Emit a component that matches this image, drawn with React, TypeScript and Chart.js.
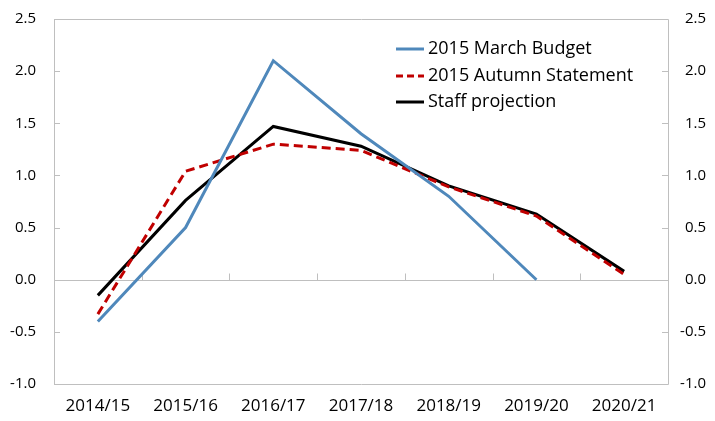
import React, { useEffect, useRef } from 'react';
import { Chart, registerables } from 'chart.js';
Chart.register(...registerables);

const categories = ['2014/15', '2015/16', '2016/17', '2017/18', '2018/19', '2019/20', '2020/21'];
const marchBudget: (number | null)[] = [-0.4, 0.5, 2.1, 1.4, 0.8, 0.0, null];
const autumnStatement = [-0.33, 1.04, 1.3, 1.24, 0.89, 0.61, 0.05];
const staffProjection = [-0.15, 0.76, 1.47, 1.28, 0.9, 0.63, 0.08];
const seriesNames = ['2015 March Budget', '2015 Autumn Statement', 'Staff projection'];
const seriesColors = ['#4F88BB', '#C00000', '#000000'];
const yMin = -1.0;
const yMax = 2.5;
const yStep = 0.5;

const FONT = '"Open Sans", "Noto Sans", sans-serif';
const AXIS_GRAY = '#BFBFBF';

const framePlugin = {
  id: 'frame',
  beforeDatasetsDraw(chart: any) {
    const { ctx, chartArea: a, scales } = chart;
    const y = scales.y;
    const x = scales.x;
    ctx.save();
    ctx.strokeStyle = AXIS_GRAY;
    ctx.lineWidth = 1;
    ctx.beginPath();
    ctx.rect(Math.round(a.left) + 0.5, Math.round(a.top) + 0.5, Math.round(a.right - a.left), Math.round(a.bottom - a.top));
    ctx.stroke();
    const y0 = Math.round(y.getPixelForValue(0)) + 0.5;
    ctx.beginPath();
    ctx.moveTo(a.left, y0);
    ctx.lineTo(a.right, y0);
    for (let v = yMin; v <= yMax + 1e-9; v += yStep) {
      const py = Math.round(y.getPixelForValue(v)) + 0.5;
      ctx.moveTo(a.left, py);
      ctx.lineTo(a.left + 6, py);
      ctx.moveTo(a.right - 6, py);
      ctx.lineTo(a.right, py);
    }
    for (let i = 0; i < categories.length - 1; i++) {
      const px = Math.round((x.getPixelForValue(i) + x.getPixelForValue(i + 1)) / 2) + 0.5;
      ctx.moveTo(px, y0);
      ctx.lineTo(px, y0 - 7);
    }
    ctx.stroke();
    ctx.restore();
  },
  afterDraw(chart: any) {
    const { ctx } = chart;
    ctx.save();
    const x1 = 396;
    const x2 = 424;
    const rows = [49, 76, 102];
    ctx.font = `18px ${FONT}`;
    ctx.textBaseline = 'middle';
    ctx.textAlign = 'left';
    rows.forEach((ry, i) => {
      ctx.beginPath();
      ctx.strokeStyle = seriesColors[i];
      ctx.lineWidth = 3;
      ctx.setLineDash(i === 1 ? [7, 4] : []);
      ctx.moveTo(x1, ry);
      ctx.lineTo(x2, ry);
      ctx.stroke();
      ctx.setLineDash([]);
      ctx.fillStyle = '#000';
      ctx.fillText(seriesNames[i], 428, ry);
    });
    ctx.restore();
  },
};

const fitY = (w: number) => (s: any) => {
  s.width = w;
  s.paddingTop = 0;
  s.paddingBottom = 0;
};

export default function App() {
  const ref = useRef<HTMLCanvasElement>(null);
  useEffect(() => {
    if (!ref.current) return;
    const chart = new Chart(ref.current, {
      type: 'line',
      data: {
        labels: categories,
        datasets: [
          {
            label: seriesNames[0],
            data: marchBudget,
            borderColor: seriesColors[0],
            borderWidth: 3,
            pointRadius: 0,
            tension: 0,
            spanGaps: false,
          },
          {
            label: seriesNames[1],
            data: autumnStatement,
            borderColor: seriesColors[1],
            borderWidth: 3,
            borderDash: [9, 5],
            pointRadius: 0,
            tension: 0,
          },
          {
            label: seriesNames[2],
            data: staffProjection,
            borderColor: seriesColors[2],
            borderWidth: 3,
            pointRadius: 0,
            tension: 0,
          },
        ],
      },
      options: {
        animation: false,
        responsive: false,
        maintainAspectRatio: false,
        layout: { padding: { top: 19, right: 9, left: 0, bottom: 0 } },
        plugins: {
          legend: { display: false },
          tooltip: { enabled: false },
        },
        scales: {
          x: {
            type: 'category',
            offset: true,
            grid: { display: false, drawTicks: false },
            border: { display: false },
            ticks: { color: '#000', font: { family: FONT, size: 17 }, padding: 12, maxRotation: 0, autoSkip: false },
            afterFit: (s: any) => { s.height = 37; s.paddingLeft = 0; s.paddingRight = 0; },
          },
          y: {
            position: 'left',
            min: yMin,
            max: yMax,
            grid: { display: false, drawTicks: false },
            border: { display: false },
            ticks: {
              stepSize: yStep,
              color: '#000',
              font: { family: FONT, size: 15 },
              padding: 18,
              callback: (v: any) => Number(v).toFixed(1),
            },
            afterFit: fitY(54),
          },
          y2: {
            position: 'right',
            min: yMin,
            max: yMax,
            grid: { display: false, drawTicks: false },
            border: { display: false },
            ticks: {
              stepSize: yStep,
              color: '#000',
              font: { family: FONT, size: 15 },
              crossAlign: 'far',
              padding: 12,
              callback: (v: any) => Number(v).toFixed(1),
            },
            afterFit: fitY(38),
          },
        },
      },
      plugins: [framePlugin],
    });
    return () => chart.destroy();
  }, []);
  return (
    <div style={{ position: 'fixed', left: 0, top: 0, width: 715, height: 421, background: '#fff' }}>
      <canvas ref={ref} width={715} height={421} style={{ width: 715, height: 421, display: 'block' }} />
    </div>
  );
}
